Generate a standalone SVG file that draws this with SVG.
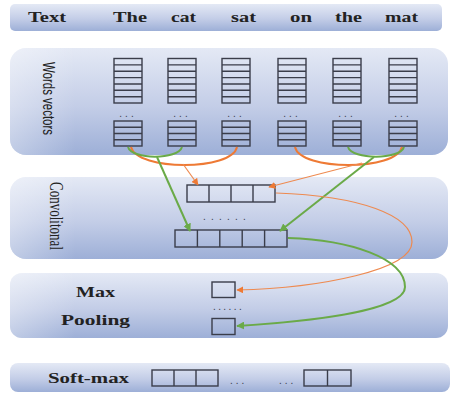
<svg xmlns="http://www.w3.org/2000/svg" width="450" height="397" viewBox="0 0 450 397">
<defs>
<linearGradient id="pg" x1="0" y1="0" x2="0" y2="1">
<stop offset="0" stop-color="#e4e9f5"/>
<stop offset="0.55" stop-color="#c3cde7"/>
<stop offset="1" stop-color="#9dafd7"/>
</linearGradient>
<linearGradient id="ph" x1="0" y1="0" x2="1" y2="0">
<stop offset="0" stop-color="#ffffff" stop-opacity="0.35"/>
<stop offset="0.15" stop-color="#ffffff" stop-opacity="0"/>
</linearGradient>
<marker id="ao" viewBox="0 0 10 10" refX="9" refY="5" markerWidth="7" markerHeight="7" markerUnits="userSpaceOnUse" orient="auto">
<path d="M0,0 L10,5 L0,10 Z" fill="#ee7a35"/>
</marker>
<marker id="ag" viewBox="0 0 10 10" refX="9" refY="5" markerWidth="8" markerHeight="8" markerUnits="userSpaceOnUse" orient="auto">
<path d="M0,0 L10,5 L0,10 Z" fill="#6aaa48"/>
</marker>
<style>
.panel{fill:url(#pg);}
.hl{fill:url(#ph);}
.cell{fill:none;stroke:#3a3d4a;stroke-width:1.4;}
.lbl{font-family:"Liberation Serif","Times New Roman",serif;font-weight:bold;font-size:15px;fill:#222;}
.dots{font-family:"Liberation Sans",Arial,sans-serif;font-size:10px;fill:#3a3d4a;}
.g{fill:none;stroke:#6aaa48;stroke-width:2;}
.o{fill:none;stroke:#ee7a35;stroke-width:2;}
.ot{fill:none;stroke:#ee8a50;stroke-width:1.2;}
</style>
</defs>
<rect width="450" height="397" fill="#ffffff"/>

<g id="panel-text">
<rect class="panel" x="10" y="4" width="432" height="27" rx="5"/>
<text class="lbl" x="28" y="22" textLength="38" lengthAdjust="spacingAndGlyphs">Text</text>
<text class="lbl" x="113" y="22" textLength="34" lengthAdjust="spacingAndGlyphs">The</text>
<text class="lbl" x="171" y="22" textLength="25" lengthAdjust="spacingAndGlyphs">cat</text>
<text class="lbl" x="231" y="22" textLength="25" lengthAdjust="spacingAndGlyphs">sat</text>
<text class="lbl" x="290" y="22" textLength="22" lengthAdjust="spacingAndGlyphs">on</text>
<text class="lbl" x="335" y="22" textLength="27" lengthAdjust="spacingAndGlyphs">the</text>
<text class="lbl" x="385" y="22" textLength="33" lengthAdjust="spacingAndGlyphs">mat</text>
</g>

<g id="panel-words">
<rect class="panel" x="10" y="48" width="438" height="107" rx="16"/>
<rect class="hl" x="10" y="48" width="438" height="107" rx="16"/>
<text transform="translate(49,98.5) rotate(90)" text-anchor="middle" dy="0.35em" font-family="'Liberation Sans',Arial,sans-serif" font-size="17" fill="#222" textLength="73" lengthAdjust="spacingAndGlyphs">Words vectors</text>
<g id="wv1">
<rect class="cell" x="114" y="58.5" width="28" height="44.5"/>
<path class="cell" d="M114,64.9H142M114,71.2H142M114,77.6H142M114,84H142M114,90.3H142M114,96.7H142"/>
<text class="dots" x="128" y="117" text-anchor="middle" letter-spacing="3">...</text>
<rect class="cell" x="114" y="121" width="28" height="25"/>
<path class="cell" d="M114,127.25H142M114,133.5H142M114,139.75H142"/>
</g>
<g id="wv2">
<rect class="cell" x="168" y="58.5" width="28" height="44.5"/>
<path class="cell" d="M168,64.9H196M168,71.2H196M168,77.6H196M168,84H196M168,90.3H196M168,96.7H196"/>
<text class="dots" x="182" y="117" text-anchor="middle" letter-spacing="3">...</text>
<rect class="cell" x="168" y="121" width="28" height="25"/>
<path class="cell" d="M168,127.25H196M168,133.5H196M168,139.75H196"/>
</g>
<g id="wv3">
<rect class="cell" x="222" y="58.5" width="28" height="44.5"/>
<path class="cell" d="M222,64.9H250M222,71.2H250M222,77.6H250M222,84H250M222,90.3H250M222,96.7H250"/>
<text class="dots" x="236" y="117" text-anchor="middle" letter-spacing="3">...</text>
<rect class="cell" x="222" y="121" width="28" height="25"/>
<path class="cell" d="M222,127.25H250M222,133.5H250M222,139.75H250"/>
</g>
<g id="wv4">
<rect class="cell" x="278" y="58.5" width="28" height="44.5"/>
<path class="cell" d="M278,64.9H306M278,71.2H306M278,77.6H306M278,84H306M278,90.3H306M278,96.7H306"/>
<text class="dots" x="292" y="117" text-anchor="middle" letter-spacing="3">...</text>
<rect class="cell" x="278" y="121" width="28" height="25"/>
<path class="cell" d="M278,127.25H306M278,133.5H306M278,139.75H306"/>
</g>
<g id="wv5">
<rect class="cell" x="333" y="58.5" width="28" height="44.5"/>
<path class="cell" d="M333,64.9H361M333,71.2H361M333,77.6H361M333,84H361M333,90.3H361M333,96.7H361"/>
<text class="dots" x="347" y="117" text-anchor="middle" letter-spacing="3">...</text>
<rect class="cell" x="333" y="121" width="28" height="25"/>
<path class="cell" d="M333,127.25H361M333,133.5H361M333,139.75H361"/>
</g>
<g id="wv6">
<rect class="cell" x="389" y="58.5" width="28" height="44.5"/>
<path class="cell" d="M389,64.9H417M389,71.2H417M389,77.6H417M389,84H417M389,90.3H417M389,96.7H417"/>
<text class="dots" x="403" y="117" text-anchor="middle" letter-spacing="3">...</text>
<rect class="cell" x="389" y="121" width="28" height="25"/>
<path class="cell" d="M389,127.25H417M389,133.5H417M389,139.75H417"/>
</g>
</g>

<g id="panel-conv">
<rect class="panel" x="10" y="177" width="438" height="82" rx="16"/>
<rect class="hl" x="10" y="177" width="438" height="82" rx="16"/>
<text transform="translate(56,216) rotate(90)" text-anchor="middle" dy="0.35em" font-family="'Liberation Serif','Times New Roman',serif" font-size="18" fill="#222" textLength="68" lengthAdjust="spacingAndGlyphs">Convolitonal</text>
<g id="conv-top">
<rect class="cell" x="187" y="185" width="88" height="17"/>
<path class="cell" d="M209,185V202M231,185V202M253,185V202"/>
</g>
<text class="dots" x="203" y="220" letter-spacing="5.2">......</text>
<g id="conv-bottom">
<rect class="cell" x="175" y="230" width="112" height="17"/>
<path class="cell" d="M197.4,230V247M219.8,230V247M242.2,230V247M264.6,230V247"/>
</g>
</g>

<g id="panel-pool">
<rect class="panel" x="10" y="273" width="438" height="65" rx="12"/>
<rect class="hl" x="10" y="273" width="438" height="65" rx="12"/>
<text class="lbl" x="76" y="297" textLength="39" lengthAdjust="spacingAndGlyphs" font-size="14">Max</text>
<text class="lbl" x="61" y="325" textLength="69" lengthAdjust="spacingAndGlyphs" font-size="14">Pooling</text>
<rect class="cell" x="212" y="282" width="23" height="15.5"/>
<text class="dots" x="213" y="310" letter-spacing="2.4">......</text>
<rect class="cell" x="212" y="318.5" width="23" height="16"/>
</g>

<g id="panel-softmax">
<rect class="panel" x="10" y="363" width="440" height="29" rx="8"/>
<text class="lbl" x="48" y="383" textLength="81" lengthAdjust="spacingAndGlyphs" font-size="14">Soft-max</text>
<rect class="cell" x="152" y="370" width="66" height="16"/>
<path class="cell" d="M174,370V386M196,370V386"/>
<text class="dots" x="230" y="384" letter-spacing="3">...</text>
<text class="dots" x="279" y="384" letter-spacing="3">...</text>
<rect class="cell" x="304" y="370" width="47" height="16"/>
<path class="cell" d="M327.5,370V386"/>
</g>

<g id="connectors">
<path class="o" d="M131,147 C137,171 232,171 237,147"/>
<path class="o" d="M295,147 C300,171 397,171 402,147"/>
<path class="g" d="M128,147 C132,160 178,160 182,147"/>
<path class="g" d="M348,147 C352,160 400,160 404,147"/>
<path class="ot" d="M183,164 L198,185" marker-end="url(#ao)"/>
<path class="ot" d="M362,163 L269,187" marker-end="url(#ao)"/>
<path class="g" d="M157,157 L190,231" marker-end="url(#ag)"/>
<path class="g" d="M374,157 L280,231" marker-end="url(#ag)"/>
<path class="ot" d="M276,193 C360,196 412,215 412,242 C412,270 320,288 237,290" marker-end="url(#ao)"/>
<path class="g" d="M288,238 C350,240 405,258 405,287 C405,312 300,322 237,326" marker-end="url(#ag)"/>
</g>
</svg>
